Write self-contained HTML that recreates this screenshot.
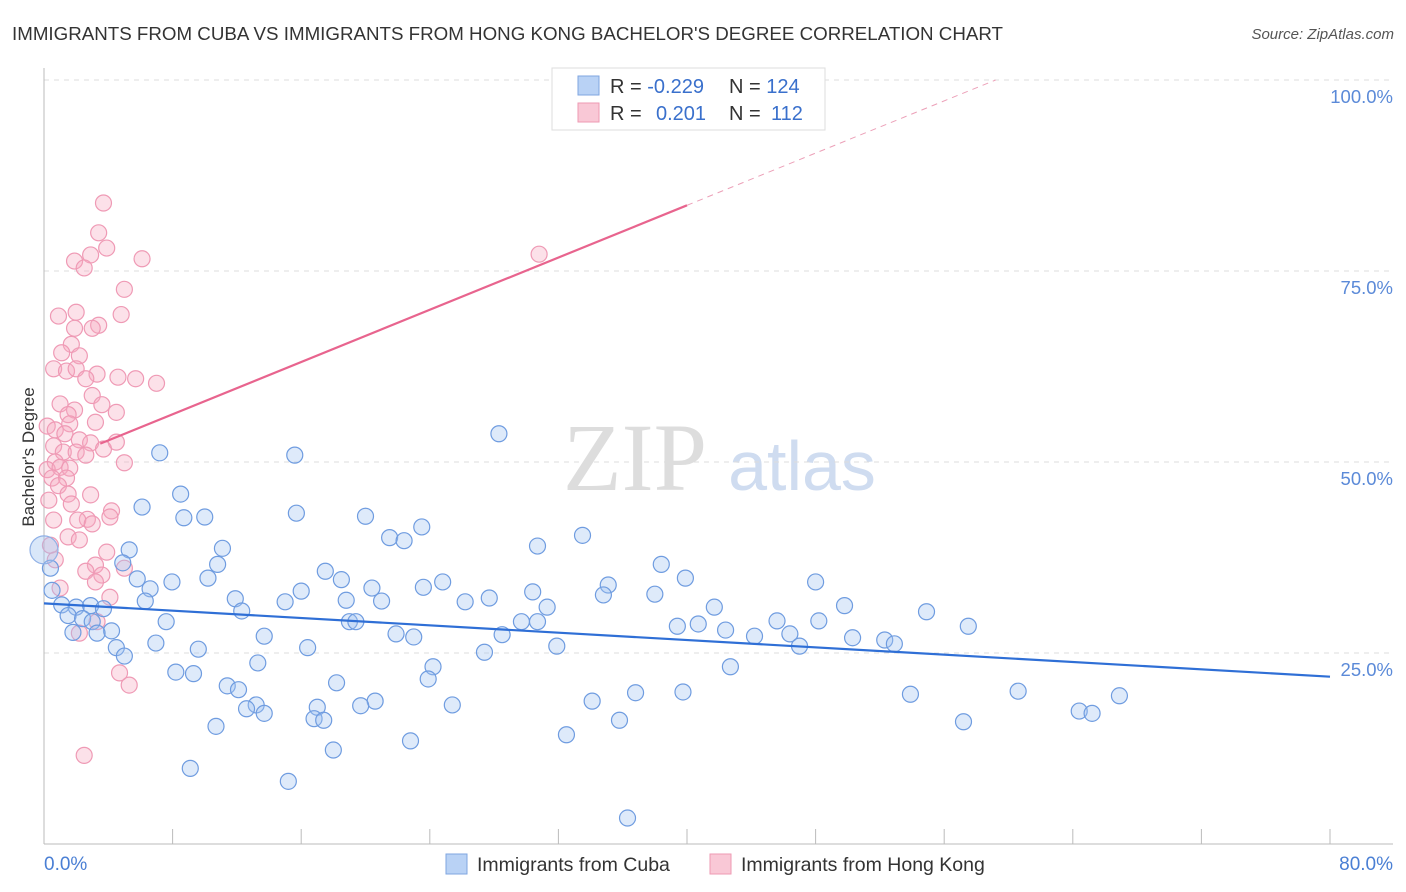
<!DOCTYPE html>
<html><head><meta charset="utf-8">
<style>
body{margin:0;background:#fff;font-family:"Liberation Sans",sans-serif;}
svg{display:block}
</style></head>
<body>
<svg id="chart" width="1406" height="892" xmlns="http://www.w3.org/2000/svg">
<text x="12" y="40" font-size="18" fill="#333" textLength="991" lengthAdjust="spacingAndGlyphs">IMMIGRANTS FROM CUBA VS IMMIGRANTS FROM HONG KONG BACHELOR'S DEGREE CORRELATION CHART</text>
<text x="1394" y="39" font-size="15" fill="#555" font-style="italic" text-anchor="end">Source: ZipAtlas.com</text>
<g>
<text x="635" y="490" font-size="96" fill="#ddd" font-family="Liberation Serif" text-anchor="middle">ZIP</text>
<text x="802" y="490" font-size="70" fill="#cfdcf0" text-anchor="middle">atlas</text>
</g>
<g id="grid"></g>
<g id="axes"></g>
<g id="pts"></g>
<g id="trend"></g>
<text transform="translate(34,457) rotate(-90)" font-size="17" fill="#333" text-anchor="middle">Bachelor's Degree</text>
<text x="44" y="870" font-size="19" fill="#4a7fd4">0.0%</text>
<text x="1393" y="870" font-size="19" fill="#4a7fd4" text-anchor="end">80.0%</text>
<g>
<rect x="552" y="68" width="273" height="62" fill="#fff" stroke="#ddd"/>
<rect x="578" y="76" width="21" height="19" fill="#b9d2f5" stroke="#7fa6e0"/>
<rect x="578" y="103" width="21" height="19" fill="#f9c8d6" stroke="#ee9ab3"/>
<text x="610" y="93" font-size="20" fill="#333">R = <tspan fill="#3a70cc">-0.229</tspan><tspan x="729">N = </tspan><tspan fill="#3a70cc">124</tspan></text>
<text x="610" y="120" font-size="20" fill="#333">R = <tspan x="656" fill="#3a70cc">0.201</tspan><tspan x="729">N = </tspan><tspan fill="#3a70cc" x="771">112</tspan></text>
</g>
<g>
<rect x="446" y="854" width="21" height="20" fill="#b9d2f5" stroke="#7fa6e0"/>
<text x="477" y="871" font-size="19.5" fill="#333">Immigrants from Cuba</text>
<rect x="710" y="854" width="21" height="20" fill="#f9c8d6" stroke="#ee9ab3"/>
<text x="741" y="871" font-size="19.5" fill="#333">Immigrants from Hong Kong</text>
</g>
</svg>
<script>
const yTicks=[25,50,75,100];
const yTickLabels=["25.0%","50.0%","75.0%","100.0%"];
const xTicks=[0,8,16,24,32,40,48,56,64,72,80];
const cubaX=[7.2,15.6,28.3,8.5,6.1,8.7,10.0,15.7,20.0,23.5,21.5,22.4,30.7,33.5,11.1,5.3,10.8,4.9,0.4,5.8,7.96,10.2,6.6,17.5,18.5,16.0,20.4,23.6,24.8,35.1,38.4,39.9,48.0,0.5,1.1,2.0,2.9,3.7,6.3,11.9,12.3,15.0,18.8,21.0,26.2,27.7,30.4,31.3,34.8,38.0,41.7,45.6,49.8,54.9,57.5,1.5,2.4,3.0,4.2,3.3,1.8,7.6,19.0,19.4,30.7,29.7,21.9,23.0,13.7,28.5,39.4,40.7,42.4,44.2,46.4,47.0,48.2,50.3,52.3,52.9,4.5,5.0,6.96,9.6,16.4,31.9,27.4,13.3,24.2,23.9,42.7,8.2,9.3,11.4,12.1,18.2,36.8,34.1,39.75,53.9,60.6,66.9,64.4,65.2,57.2,35.8,25.4,20.6,19.7,17.0,16.8,17.4,13.2,12.6,13.7,10.7,18.0,22.8,32.5,9.1,15.2,36.3];
const cubaY=[51.2,50.9,53.7,45.8,44.1,42.7,42.8,43.3,42.9,41.5,40.1,39.7,39.0,40.4,38.7,38.5,36.6,36.8,36.1,34.7,34.3,34.8,33.4,35.7,34.6,33.1,33.5,33.6,34.3,33.9,36.6,34.8,34.3,33.2,31.3,31.0,31.2,30.8,31.8,32.1,30.5,31.7,31.9,31.8,31.7,32.2,33.0,31.0,32.6,32.7,31.0,29.2,31.2,30.4,28.5,29.9,29.5,29.1,27.9,27.6,27.7,29.1,29.1,29.1,29.1,29.1,27.5,27.1,27.2,27.4,28.5,28.8,28.0,27.2,27.5,25.9,29.2,27.0,26.7,26.2,25.7,24.6,26.3,25.5,25.7,25.9,25.1,23.7,23.2,21.6,23.2,22.5,22.3,20.7,20.2,21.1,19.8,18.7,19.9,19.6,20.0,19.4,17.4,17.1,16.0,16.2,18.2,18.7,18.1,17.9,16.4,16.2,18.2,17.7,17.1,15.4,12.3,13.5,14.3,9.9,8.2,3.4];
const hkX=[3.7,3.4,3.9,2.9,1.9,2.5,6.1,30.8,5.0,0.9,2.0,4.8,3.4,3.0,1.9,1.7,1.1,2.2,0.6,1.4,2.0,3.3,2.6,4.6,5.7,7.0,3.0,3.6,4.5,1.0,1.9,1.5,3.2,0.2,0.7,1.6,1.3,2.2,2.9,4.5,0.6,1.2,2.0,3.7,2.6,0.7,0.2,1.0,1.6,5.0,0.5,1.4,0.9,1.5,2.9,0.3,1.7,4.2,2.7,2.1,0.6,3.0,4.1,1.5,2.2,3.9,3.2,2.6,5.0,3.6,3.2,1.0,4.1,2.2,3.3,4.7,5.3,2.5,0.4,0.7];
const hkY=[83.9,80.0,78.0,77.1,76.3,75.4,76.6,77.2,72.6,69.1,69.6,69.3,67.9,67.5,67.5,65.4,64.3,63.9,62.2,61.9,62.2,61.5,60.9,61.1,60.9,60.3,58.7,57.5,56.5,57.6,56.8,56.2,55.2,54.7,54.2,55.0,53.7,52.9,52.5,52.6,52.1,51.3,51.3,51.7,50.9,50.0,49.0,49.3,49.2,49.9,47.9,47.9,46.9,45.8,45.7,45.0,44.5,43.6,42.5,42.4,42.4,41.9,42.8,40.2,39.8,38.2,36.5,35.7,36.1,35.2,34.3,33.5,32.3,27.6,29.1,22.4,20.8,11.6,39.1,37.2];
const cubaTrend=[[0,31.5],[80,21.9]];
const hkTrendSolid=[[3.5,52.4],[40,83.6]];
const hkTrendDash=[[40,83.6],[59.2,100]];

const X=v=>44+v*16.075, Y=v=>844-v*7.64;
const NS="http://www.w3.org/2000/svg";
function mk(tag,attrs,parent){const e=document.createElementNS(NS,tag);for(const k in attrs)e.setAttribute(k,attrs[k]);parent.appendChild(e);return e;}
const grid=document.getElementById('grid'),axes=document.getElementById('axes'),pts=document.getElementById('pts'),tr=document.getElementById('trend');
yTicks.forEach((t,i)=>{
 const l=mk('line',{x1:44,x2:1393,y1:Y(t),y2:Y(t),stroke:'#ddd','stroke-dasharray':'5,5'},grid);
 
 
 const tx=mk('text',{x:1393,y:Y(t)+23,'font-size':18.5,fill:'#5b8ad8','text-anchor':'end'},grid);
 tx.textContent=yTickLabels[i];
 
 
});
const ya=mk('line',{x1:44,x2:44,y1:68,y2:844,stroke:'#bbb'},axes);


const xa=mk('line',{x1:44,x2:1393,y1:844,y2:844,stroke:'#bbb'},axes);


xTicks.forEach(t=>{
 const l=mk('line',{x1:X(t),x2:X(t),y1:829,y2:844,stroke:'#bbb'},axes);
 
 
});
hkX.forEach((x,i)=>{
 const c=mk('circle',{cx:X(x),cy:Y(hkY[i]),r:8,fill:'rgba(246,168,192,0.35)',stroke:'#ef9ab5','stroke-width':1.2},pts);
 
 
});
cubaX.forEach((x,i)=>{
 const c=mk('circle',{cx:X(x),cy:Y(cubaY[i]),r:8,fill:'rgba(160,195,240,0.35)',stroke:'#6f9ce0','stroke-width':1.2},pts);
 
 
});
const big=mk('circle',{cx:X(0),cy:Y(38.5),r:14,fill:'rgba(160,195,240,0.4)',stroke:'#8fb0e6','stroke-width':1.2},pts);


function line(p,attrs,name){const l=mk('line',Object.assign({x1:X(p[0][0]),y1:Y(p[0][1]),x2:X(p[1][0]),y2:Y(p[1][1])},attrs),tr);
 
 }
line(cubaTrend,{stroke:'#2f6fd6','stroke-width':2.2},'cuba-trendline');
line(hkTrendSolid,{stroke:'#e8648e','stroke-width':2.2},'hong-kong-trendline');
line(hkTrendDash,{stroke:'#eca0b8','stroke-width':1,'stroke-dasharray':'6,5'},'hong-kong-trendline-extension');
</script>
</body></html>
